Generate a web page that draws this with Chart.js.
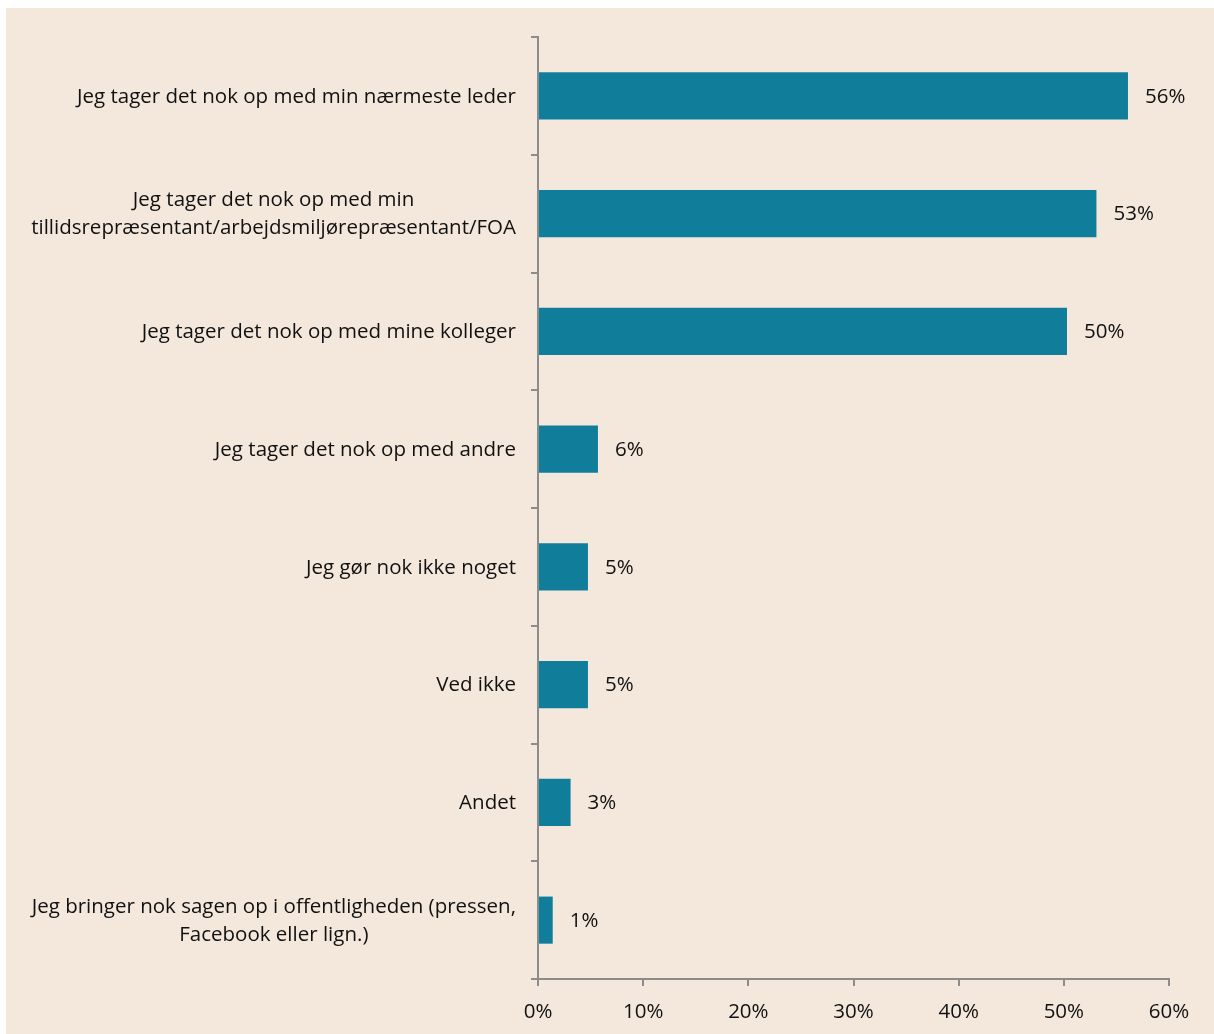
<!DOCTYPE html>
<html>
<head>
<meta charset="utf-8">
<script src="https://cdn.jsdelivr.net/npm/chart.js@4/dist/chart.umd.min.js"></script>
<style>
  html, body { margin: 0; padding: 0; background: #ffffff; }
  #wrap { position: absolute; left: 0; top: 0; width: 1214px; height: 1034px; }
</style>
</head>
<body>
<div id="wrap"><canvas id="c" width="1214" height="1034"></canvas></div>
<script>
const categories = [
  ["Jeg tager det nok op med min nærmeste leder"],
  ["Jeg tager det nok op med min", "tillidsrepræsentant/arbejdsmiljørepræsentant/FOA"],
  ["Jeg tager det nok op med mine kolleger"],
  ["Jeg tager det nok op med andre"],
  ["Jeg gør nok ikke noget"],
  ["Ved ikke"],
  ["Andet"],
  ["Jeg bringer nok sagen op i offentligheden (pressen,", "Facebook eller lign.)"]
];
const values = [56.1, 53.1, 50.3, 5.7, 4.75, 4.75, 3.1, 1.4];
const valueLabels = ["56%", "53%", "50%", "6%", "5%", "5%", "3%", "1%"];
const xTicks = [0, 10, 20, 30, 40, 50, 60];

const FONT = '"Open Sans", "Noto Sans", sans-serif';
const FONT_SIZE = 20.5;
const TEXT = '#111111';
const AXIS = '#8c8c8c';

const bgPlugin = {
  id: 'bg',
  beforeDraw(chart) {
    const ctx = chart.ctx;
    ctx.save();
    ctx.fillStyle = '#ffffff';
    ctx.fillRect(0, 0, chart.width, chart.height);
    ctx.fillStyle = '#f4e8dc';
    ctx.fillRect(6, 8, chart.width - 6, chart.height - 8);
    ctx.restore();
  }
};

const labelPlugin = {
  id: 'labels',
  afterDraw(chart) {
    const ctx = chart.ctx;
    const ys = chart.scales.y;
    ctx.save();
    ctx.font = FONT_SIZE + 'px ' + FONT;
    ctx.fillStyle = TEXT;
    ctx.textBaseline = 'middle';
    const rightEdge = ys.right - 22;
    const lh = 28;
    categories.forEach((lines, i) => {
      const y = ys.getPixelForValue(i) + 1;
      let maxW = 0;
      lines.forEach(l => { maxW = Math.max(maxW, ctx.measureText(l).width); });
      const cx = rightEdge - maxW / 2;
      ctx.textAlign = 'center';
      lines.forEach((l, j) => {
        ctx.fillText(l, cx, y + (j - (lines.length - 1) / 2) * lh);
      });
    });
    const meta = chart.getDatasetMeta(0);
    ctx.textAlign = 'left';
    meta.data.forEach((bar, i) => {
      ctx.fillText(valueLabels[i], bar.x + 17, bar.y + 1);
    });
    ctx.restore();
  }
};

new Chart(document.getElementById('c'), {
  type: 'bar',
  data: {
    labels: categories,
    datasets: [{
      data: values,
      backgroundColor: '#107e9b',
      borderWidth: 0,
      categoryPercentage: 0.8,
      barPercentage: 0.5
    }]
  },
  options: {
    indexAxis: 'y',
    responsive: false,
    animation: false,
    devicePixelRatio: 1,
    layout: { padding: { left: 0, right: 45, top: 37, bottom: 0 } },
    plugins: { legend: { display: false }, tooltip: { enabled: false } },
    scales: {
      y: {
        ticks: { display: false },
        grid: { drawOnChartArea: false, tickLength: 7, color: AXIS, lineWidth: 2, offset: true },
        border: { color: AXIS, width: 2 },
        afterFit(scale) { scale.width = 538; }
      },
      x: {
        min: 0,
        max: 60,
        afterBuildTicks(scale) { scale.ticks = xTicks.map(v => ({ value: v })); },
        ticks: {
          callback: v => v + '%',
          color: TEXT,
          font: { family: FONT, size: FONT_SIZE },
          padding: 14
        },
        grid: { drawOnChartArea: false, tickLength: 7, color: AXIS, lineWidth: 2 },
        border: { color: AXIS, width: 2 },
        afterFit(scale) { scale.height = 55; }
      }
    }
  },
  plugins: [bgPlugin, labelPlugin]
});
</script>
</body>
</html>
